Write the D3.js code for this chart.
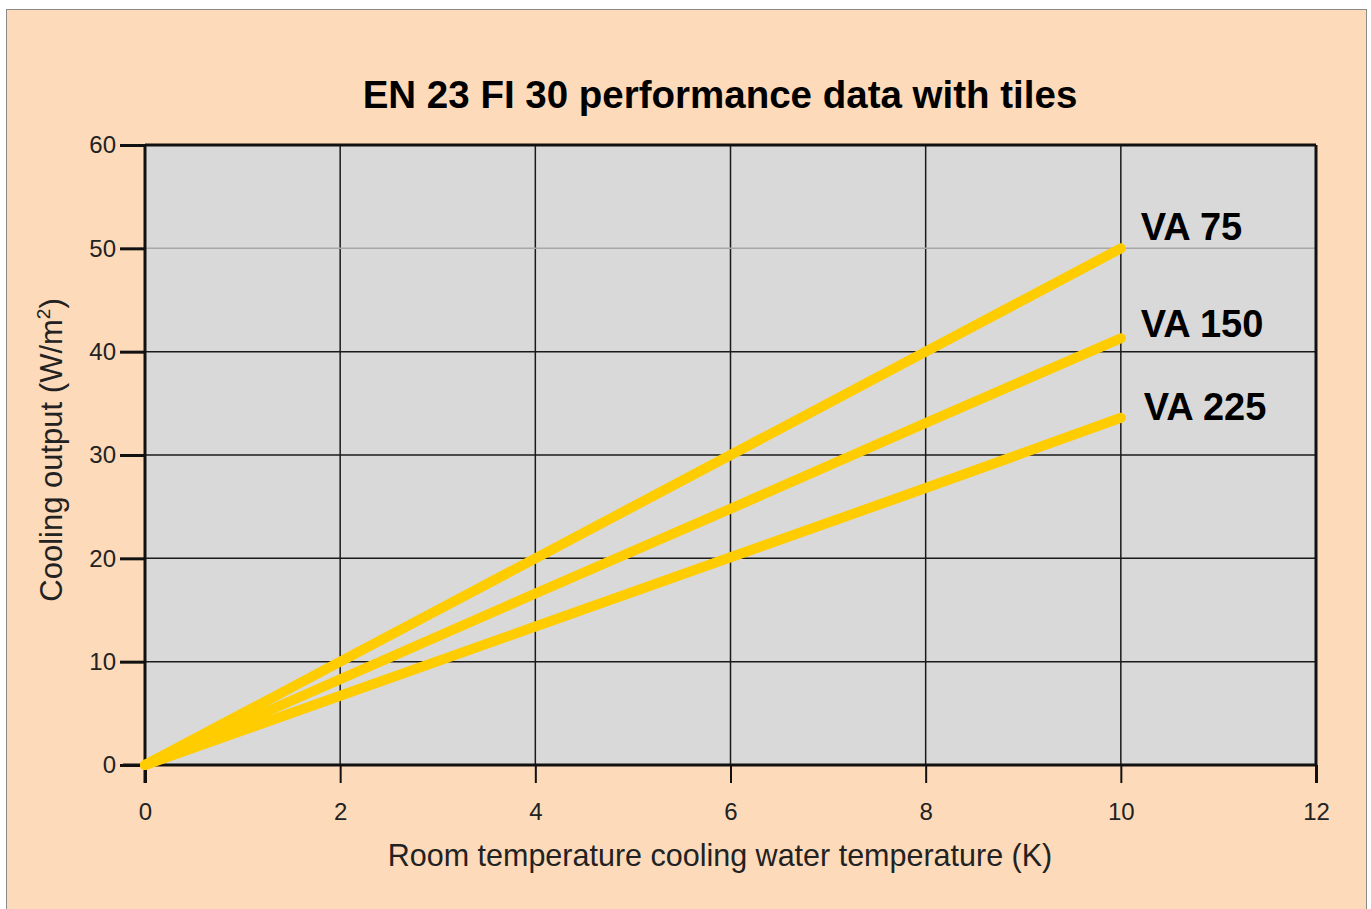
<!DOCTYPE html>
<html><head><meta charset="utf-8">
<script src="https://cdn.jsdelivr.net/npm/d3@7"></script>
<style>
html,body{margin:0;padding:0;background:#fff;}
svg{display:block;font-family:"Liberation Sans",Arial,Helvetica,sans-serif;}
</style></head>
<body>
<svg id="chart" width="1371" height="909"></svg>
<script>
const title = "EN 23 FI 30 performance data with tiles";
const xTitle = "Room temperature cooling water temperature (K)";
const xValues = [0, 2, 4, 6, 8, 10];
const seriesNames = ["VA 75", "VA 150", "VA 225"];
const va75 = [0, 10, 20, 30, 40, 50];
const va150 = [0, 8.3, 16.6, 24.8, 33.1, 41.3];
const va225 = [0, 6.7, 13.4, 20.1, 26.8, 33.6];
const xTicks = [0, 2, 4, 6, 8, 10, 12];
const yTicks = [0, 10, 20, 30, 40, 50, 60];

const series = [va75, va150, va225];
const svg = d3.select("#chart");

// outer frame
svg.append("rect").attr("x", 6.5).attr("y", 9.5).attr("width", 1360).attr("height", 910)
  .attr("fill", "#FDDAB9").attr("stroke", "#8a8a8a").attr("stroke-width", 1);

const x = d3.scaleLinear().domain([0, 12]).range([145, 1316]);
const y = d3.scaleLinear().domain([0, 60]).range([765, 145]);

// plot background
svg.append("rect").attr("x", x(0)).attr("y", y(60)).attr("width", x(12) - x(0)).attr("height", y(0) - y(60))
  .attr("fill", "#D9D9D9");

// gridlines
const g = svg.append("g");
xTicks.filter(d => d > 0 && d < 12).forEach(d => {
  g.append("line").attr("x1", x(d)).attr("x2", x(d)).attr("y1", y(60)).attr("y2", y(0))
    .attr("stroke", "#1a1a1a").attr("stroke-width", 1.5);
});
yTicks.filter(d => d > 0 && d < 60).forEach(d => {
  g.append("line").attr("x1", x(0)).attr("x2", x(12)).attr("y1", y(d)).attr("y2", y(d))
    .attr("stroke", d === 50 ? "#a8a8a8" : "#1a1a1a").attr("stroke-width", 1.5);
});

// top and right border
svg.append("line").attr("x1", x(0)).attr("x2", x(12)).attr("y1", y(60)).attr("y2", y(60))
  .attr("stroke", "#111").attr("stroke-width", 3);
svg.append("line").attr("x1", x(12)).attr("x2", x(12)).attr("y1", y(60)).attr("y2", y(0))
  .attr("stroke", "#111").attr("stroke-width", 3);

// axes
const xAxis = d3.axisBottom(x).tickValues(xTicks).tickSize(18).tickSizeOuter(0).tickPadding(20);
const xg = svg.append("g").attr("transform", `translate(0,${y(0)})`).call(xAxis);
xg.select(".domain").attr("stroke", "#111").attr("stroke-width", 3).attr("d", `M${x(0)-22},0H${x(12)}`);
xg.selectAll(".tick line").attr("stroke", "#111").attr("stroke-width", d => (d === 0 || d === 12) ? 3 : 2);
xg.selectAll(".tick text").attr("font-size", 24).attr("fill", "#222").attr("font-family", "Liberation Sans, Arial, sans-serif");

const yAxis = d3.axisLeft(y).tickValues(yTicks).tickSize(25).tickSizeOuter(0).tickPadding(4);
const yg = svg.append("g").attr("transform", `translate(${x(0)},0)`).call(yAxis);
yg.select(".domain").attr("stroke", "#111").attr("stroke-width", 3).attr("d", `M0,${y(60)}V${y(0)+18}`);
yg.selectAll(".tick line").attr("stroke", "#111").attr("stroke-width", 3);
yg.selectAll(".tick text").attr("font-size", 24).attr("fill", "#222").attr("font-family", "Liberation Sans, Arial, sans-serif");

// lines
const line = d3.line().x((d, i) => x(xValues[i])).y(d => y(d));
series.forEach(s => {
  svg.append("path").datum(s).attr("d", line).attr("fill", "none")
    .attr("stroke", "#FFCC00").attr("stroke-width", 10).attr("stroke-linecap", "round").attr("stroke-linejoin", "round");
});

// series labels
const labelDx = [20, 20, 23];
const labelDy = [-8, -1, 2];
seriesNames.forEach((n, i) => {
  const s = series[i];
  svg.append("text").attr("x", x(xValues[xValues.length - 1]) + labelDx[i])
    .attr("y", y(s[s.length - 1]) + labelDy[i])
    .attr("font-size", 38).attr("font-weight", "bold").attr("fill", "#000").text(n);
});

// title
svg.append("text").attr("x", 720).attr("y", 108).attr("text-anchor", "middle")
  .attr("font-size", 38.5).attr("font-weight", "bold").attr("fill", "#000").text(title);

// axis titles
svg.append("text").attr("x", 720).attr("y", 866).attr("text-anchor", "middle")
  .attr("font-size", 30.5).attr("fill", "#222").text(xTitle);

const yt = svg.append("text").attr("transform", "translate(62,450) rotate(-90)").attr("text-anchor", "middle")
  .attr("font-size", 31).attr("fill", "#222");
yt.append("tspan").text("Cooling output (W/m");
yt.append("tspan").attr("font-size", 19).attr("dy", -12).text("2");
yt.append("tspan").attr("dy", 12).text(")");
</script>
</body></html>
